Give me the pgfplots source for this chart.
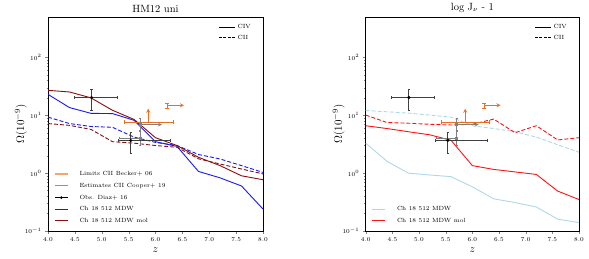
\documentclass[border=0pt]{standalone}
\usepackage{pgfplots}
\usepackage{pgfplotstable}
\pgfplotsset{compat=1.18}
\definecolor{cblue}{RGB}{25,25,245}
\definecolor{cdred}{RGB}{135,15,15}
\definecolor{clblue}{RGB}{173,216,230}
\definecolor{cred}{RGB}{250,20,20}
\definecolor{corange}{RGB}{235,110,30}
\definecolor{corangel}{RGB}{245,165,110}

\pgfplotstableread{
z civ cii
4.0 23   9.3
4.4 13.6 7.2
4.8 10.8 6.4
5.2 10.7 6.2
5.6 8.2  4.2
6.0 3.5  3.4
6.4 2.9  3.0
6.8 1.07 2.1
7.2 0.83 1.76
7.6 0.60 1.35
8.0 0.24 1.03
}\hmblue
\pgfplotstableread{
z civ cii
4.0 27   7.2
4.4 25.3 6.7
4.8 20   5.7
5.2 12.2 3.5
5.6 8.5  3.3
6.0 4.1  3.0
6.4 3.0  2.8
6.8 1.88 1.77
7.2 1.35 1.44
7.6 0.90 1.18
8.0 0.77 0.97
}\hmdred
\pgfplotstableread{
z civ cii
4.0 3.3  12.1
4.4 1.6  11.5
4.8 1.0  10.9
5.2 0.93 10.1
5.6 0.87 9.3
6.0 0.58 6.6
6.4 0.36 5.9
6.8 0.31 5.2
7.2 0.26 4.2
7.6 0.16 3.1
8.0 0.14 2.3
}\jlblue
\pgfplotstableread{
z civ cii
4.0 6.6  10.1
4.4 5.9  7.5
4.8 5.2  7.3
5.2 4.6  7.0
5.6 3.7  6.8
6.0 1.35 7.0
6.4 1.16 8.6
6.8 1.05 5.0
7.2 0.95 6.6
7.6 0.49 3.75
8.0 0.35 4.1
}\jred

\pgfplotsset{
  myaxis/.style={
    width=215pt, height=214pt, scale only axis,
    xmin=4, xmax=8, ymin=0.1, ymax=500,
    xtick={4,4.5,5,5.5,6,6.5,7,7.5,8},
    ytick={0.1,1,10,100},
    xticklabel style={/pgf/number format/fixed, /pgf/number format/fixed zerofill, /pgf/number format/precision=1},
    tick label style={font=\fontsize{6.5}{7}\selectfont},
    tick align=outside, tick pos=left,
    major tick length=3pt, minor tick length=1.5pt,
    xlabel={$z$}, ylabel={$\Omega(10^{-9})$},
    ylabel shift=-9pt,
    label style={font=\fontsize{11}{12}\selectfont},
    title style={font=\fontsize{10.5}{12}\selectfont, yshift=-5pt},
    axis line style={line width=0.6pt},
    legend cell align=left,
    legend image code/.code={\draw[##1] (0pt,0pt) -- (13pt,0pt);},
    legend style={draw=none, fill=none, at={(rel axis cs:0,0)}, anchor=south west,
      xshift=5pt, yshift=5pt, inner sep=1pt,
      font=\fontsize{6}{7}\selectfont, row sep=4pt,
      nodes={inner sep=1pt, text height=4.5pt, text depth=1.2pt},
      /tikz/every odd column/.append style={column sep=10pt}},
  },
  toplegend/.style={
    width=215pt, height=214pt, scale only axis, hide axis,
    xmin=4, xmax=8, ymin=0.1, ymax=500,
    legend cell align=left,
    legend image code/.code={\draw[##1] (0pt,0pt) -- (16pt,0pt);},
    legend style={draw=none, fill=none, at={(rel axis cs:1,1)}, anchor=north east,
      xshift=-10pt, yshift=-5pt, inner sep=1pt,
      font=\fontsize{6}{7}\selectfont, row sep=3pt,
      nodes={inner sep=1pt, text height=4.5pt, text depth=1.2pt},
      /tikz/every odd column/.append style={column sep=1pt}},
  },
  crv/.style={line width=0.9pt},
  dsh/.style={line width=0.9pt, dash pattern=on 4pt off 2pt},
}

\newcommand{\obsdata}{%
  \addplot[corange, line width=0.8pt, mark=none, forget plot, error bars/.cd, x dir=both, x explicit, error bar style={line width=0.8pt}]
    coordinates {(5.865,7.6) +- (0.455,0)};
  \addplot[corange, line width=0.8pt, -stealth, forget plot] coordinates {(5.865,7.6) (5.865,13)};
  \addplot[corange, line width=0.8pt, mark=none, forget plot, error bars/.cd, y dir=both, y explicit, error bar style={line width=0.8pt}]
    coordinates {(6.22,14.9) += (0,1.4) -= (0,1.5)};
  \addplot[corange, line width=0.8pt, -stealth, forget plot] coordinates {(6.22,14.9) (6.53,14.9)};
  \addplot[gray, line width=0.8pt, only marks, mark=square*, mark size=1pt, forget plot, error bars/.cd, y dir=both, y explicit, error bar style={line width=0.8pt}]
    coordinates {(5.71,6.9) += (0,2.0) -= (0,1.4)};
  \addplot[gray, line width=0.8pt, -stealth, forget plot] coordinates {(5.71,6.9) (6.12,6.9)};
  \addplot[gray, line width=0.8pt, only marks, mark=square*, mark size=1pt, forget plot, error bars/.cd, y dir=both, y explicit, x dir=minus, x explicit, error bar style={line width=0.8pt}]
    coordinates {(5.71,4.0) += (0,1.3) -= (0.38,1.0)};
  \addplot[black!75, line width=0.8pt, only marks, mark=*, mark size=1.1pt, mark options={black}, forget plot,
    error bars/.cd, x dir=both, x explicit, y dir=both, y explicit, error bar style={line width=0.8pt}]
    coordinates {(4.81,20.3) += (0.47,8.2) -= (0.33,8.1)
                 (5.54,3.67) += (0.73,1.43) -= (0.23,1.43)};
}

\begin{document}
\begin{tikzpicture}
\path[use as bounding box] (-48pt,-28pt) rectangle (541pt,231pt);
\begin{axis}[myaxis, ymode=log, title={HM12 uni}]
  \addlegendimage{corangel, line width=1.3pt}
  \addlegendentry{Limits CII Becker+ 06}
  \addlegendimage{gray!85, line width=1.3pt}
  \addlegendentry{Estimates CII Cooper+ 19}
  \addlegendimage{legend image code/.code={\fill[black] (6.5pt,0pt) circle (1.1pt); \path (0pt,0pt) -- (13pt,0pt);}}
  \addlegendentry{Obs. Diaz+ 16}
  \addlegendimage{cblue, line width=1.1pt}
  \addlegendentry{Ch 18 512 MDW}
  \addlegendimage{cdred, line width=1.1pt}
  \addlegendentry{Ch 18 512 MDW mol}
  \addplot[cblue, crv, forget plot] table[x=z, y=civ] {\hmblue};
  \addplot[cblue, dsh, forget plot] table[x=z, y=cii] {\hmblue};
  \addplot[cdred, crv, forget plot] table[x=z, y=civ] {\hmdred};
  \addplot[cdred, dsh, forget plot] table[x=z, y=cii] {\hmdred};
  \obsdata
\end{axis}
\begin{axis}[toplegend, ymode=log]
  \addlegendimage{black, line width=0.8pt}
  \addlegendentry{CIV}
  \addlegendimage{black, line width=0.8pt, dash pattern=on 3pt off 1.3pt}
  \addlegendentry{CII}
\end{axis}
\begin{axis}[myaxis, ymode=log, at={(317.7pt,0pt)}, anchor=south west, width=213.3pt, title={log J$_\nu$ - 1}]
  \addlegendimage{clblue, line width=1.1pt}
  \addlegendentry{Ch 18 512 MDW}
  \addlegendimage{cred, line width=1.1pt}
  \addlegendentry{Ch 18 512 MDW mol}
  \addplot[clblue, crv, forget plot] table[x=z, y=civ] {\jlblue};
  \addplot[clblue, dsh, forget plot] table[x=z, y=cii] {\jlblue};
  \addplot[cred, crv, forget plot] table[x=z, y=civ] {\jred};
  \addplot[cred, dsh, forget plot] table[x=z, y=cii] {\jred};
  \obsdata
\end{axis}
\begin{axis}[toplegend, ymode=log, at={(317.7pt,0pt)}, anchor=south west, width=213.3pt]
  \addlegendimage{black, line width=0.8pt}
  \addlegendentry{CIV}
  \addlegendimage{black, line width=0.8pt, dash pattern=on 3pt off 1.3pt}
  \addlegendentry{CII}
\end{axis}
\end{tikzpicture}
\end{document}
